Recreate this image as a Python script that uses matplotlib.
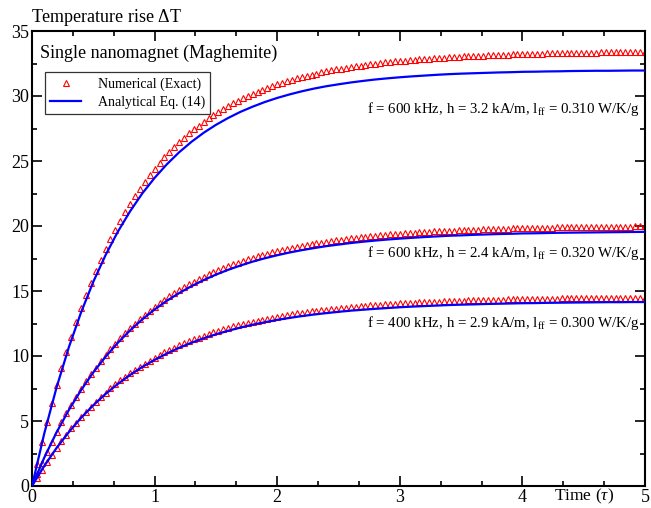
import numpy as np
import matplotlib
matplotlib.use("Agg")
import matplotlib.pyplot as plt
from matplotlib.ticker import MultipleLocator

plt.rcParams['font.family'] = ['Liberation Serif', 'DejaVu Serif']
plt.rcParams['mathtext.fontset'] = 'custom'
plt.rcParams['mathtext.rm'] = 'Liberation Serif'
plt.rcParams['mathtext.it'] = 'Liberation Serif:italic'

# temps (en unites de tau) : points numeriques tous les 0.04, courbes analytiques tous les 0.1
t_num = np.linspace(0, 5, 126)
t_ana = np.linspace(0, 5, 51)

# f = 600 kHz, h = 3.2 kA/m
num_top = [0.00, 1.72, 3.35, 4.89, 6.35, 7.74, 9.06, 10.30, 11.49, 12.61,
           13.67, 14.68, 15.64, 16.54, 17.40, 18.22, 18.99, 19.72, 20.42, 21.08,
           21.70, 22.30, 22.86, 23.39, 23.90, 24.38, 24.84, 25.27, 25.68, 26.07,
           26.44, 26.79, 27.12, 27.44, 27.73, 28.02, 28.29, 28.54, 28.79, 29.02,
           29.24, 29.44, 29.64, 29.83, 30.00, 30.17, 30.33, 30.49, 30.63, 30.77,
           30.90, 31.02, 31.14, 31.25, 31.36, 31.46, 31.55, 31.64, 31.73, 31.81,
           31.89, 31.97, 32.04, 32.10, 32.17, 32.23, 32.29, 32.34, 32.39, 32.44,
           32.49, 32.54, 32.58, 32.62, 32.66, 32.69, 32.73, 32.76, 32.80, 32.83,
           32.85, 32.88, 32.91, 32.93, 32.96, 32.98, 33.00, 33.02, 33.04, 33.06,
           33.08, 33.10, 33.11, 33.13, 33.14, 33.16, 33.17, 33.18, 33.20, 33.21,
           33.22, 33.23, 33.24, 33.25, 33.26, 33.27, 33.28, 33.29, 33.29, 33.30,
           33.31, 33.32, 33.32, 33.33, 33.33, 33.34, 33.35, 33.35, 33.36, 33.36,
           33.37, 33.37, 33.38, 33.38, 33.38, 33.39]
ana_top = [0.00, 4.04, 7.57, 10.66, 13.35, 15.71, 17.76, 19.56, 21.13, 22.51,
           23.70, 24.75, 25.67, 26.47, 27.17, 27.78, 28.31, 28.78, 29.18, 29.54,
           29.85, 30.12, 30.36, 30.57, 30.75, 30.90, 31.04, 31.16, 31.27, 31.36,
           31.44, 31.51, 31.57, 31.63, 31.68, 31.72, 31.75, 31.78, 31.81, 31.83,
           31.86, 31.87, 31.89, 31.90, 31.92, 31.93, 31.94, 31.94, 31.95, 31.96,
           31.96]

# f = 600 kHz, h = 2.4 kA/m
num_mid = [0.00, 0.91, 1.79, 2.62, 3.41, 4.17, 4.89, 5.58, 6.24, 6.87,
           7.47, 8.04, 8.59, 9.11, 9.61, 10.08, 10.53, 10.96, 11.38, 11.77,
           12.15, 12.50, 12.85, 13.17, 13.48, 13.78, 14.06, 14.33, 14.59, 14.84,
           15.07, 15.30, 15.51, 15.72, 15.91, 16.10, 16.28, 16.45, 16.61, 16.76,
           16.91, 17.05, 17.19, 17.31, 17.44, 17.55, 17.67, 17.77, 17.87, 17.97,
           18.06, 18.15, 18.24, 18.32, 18.39, 18.47, 18.54, 18.61, 18.67, 18.73,
           18.79, 18.84, 18.90, 18.95, 19.00, 19.04, 19.09, 19.13, 19.17, 19.21,
           19.25, 19.28, 19.32, 19.35, 19.38, 19.41, 19.44, 19.46, 19.49, 19.51,
           19.54, 19.56, 19.58, 19.60, 19.62, 19.64, 19.65, 19.67, 19.69, 19.70,
           19.72, 19.73, 19.75, 19.76, 19.77, 19.78, 19.79, 19.80, 19.82, 19.82,
           19.83, 19.84, 19.85, 19.86, 19.87, 19.88, 19.88, 19.89, 19.90, 19.90,
           19.91, 19.91, 19.92, 19.93, 19.93, 19.94, 19.94, 19.94, 19.95, 19.95,
           19.96, 19.96, 19.96, 19.97, 19.97, 19.97]
ana_mid = [0.00, 2.18, 4.12, 5.84, 7.37, 8.74, 9.94, 11.02, 11.97, 12.82,
           13.58, 14.25, 14.84, 15.37, 15.84, 16.26, 16.63, 16.96, 17.26, 17.52,
           17.75, 17.96, 18.14, 18.30, 18.45, 18.57, 18.69, 18.79, 18.88, 18.96,
           19.03, 19.09, 19.15, 19.20, 19.25, 19.28, 19.32, 19.35, 19.38, 19.40,
           19.43, 19.44, 19.46, 19.48, 19.49, 19.50, 19.51, 19.52, 19.53, 19.54,
           19.55]

# f = 400 kHz, h = 2.9 kA/m
num_bot = [0.00, 0.65, 1.26, 1.85, 2.42, 2.96, 3.47, 3.96, 4.43, 4.88,
           5.31, 5.72, 6.11, 6.49, 6.84, 7.18, 7.51, 7.82, 8.12, 8.40,
           8.67, 8.93, 9.18, 9.42, 9.65, 9.86, 10.07, 10.27, 10.45, 10.63,
           10.81, 10.97, 11.13, 11.28, 11.42, 11.56, 11.69, 11.82, 11.94, 12.05,
           12.16, 12.27, 12.37, 12.46, 12.55, 12.64, 12.72, 12.80, 12.88, 12.95,
           13.02, 13.09, 13.15, 13.21, 13.27, 13.33, 13.38, 13.43, 13.48, 13.52,
           13.57, 13.61, 13.65, 13.69, 13.73, 13.76, 13.80, 13.83, 13.86, 13.89,
           13.92, 13.94, 13.97, 14.00, 14.02, 14.04, 14.06, 14.08, 14.10, 14.12,
           14.14, 14.16, 14.17, 14.19, 14.21, 14.22, 14.23, 14.25, 14.26, 14.27,
           14.28, 14.29, 14.31, 14.32, 14.33, 14.33, 14.34, 14.35, 14.36, 14.37,
           14.38, 14.38, 14.39, 14.40, 14.40, 14.41, 14.41, 14.42, 14.43, 14.43,
           14.43, 14.44, 14.44, 14.45, 14.45, 14.46, 14.46, 14.46, 14.47, 14.47,
           14.47, 14.48, 14.48, 14.48, 14.48, 14.49]
ana_bot = [0.00, 1.54, 2.92, 4.14, 5.24, 6.21, 7.08, 7.85, 8.54, 9.16,
           9.70, 10.19, 10.63, 11.02, 11.36, 11.67, 11.94, 12.19, 12.41, 12.60,
           12.78, 12.93, 13.07, 13.19, 13.30, 13.40, 13.49, 13.56, 13.63, 13.69,
           13.75, 13.80, 13.84, 13.88, 13.92, 13.95, 13.97, 14.00, 14.02, 14.04,
           14.06, 14.07, 14.09, 14.10, 14.11, 14.12, 14.13, 14.14, 14.14, 14.15,
           14.15]

labels = [r"f = 600 kHz, h = 3.2 kA/m, l$_\mathrm{ff}$ = 0.310 W/K/g",
          r"f = 600 kHz, h = 2.4 kA/m, l$_\mathrm{ff}$ = 0.320 W/K/g",
          r"f = 400 kHz, h = 2.9 kA/m, l$_\mathrm{ff}$ = 0.300 W/K/g"]
label_y = [29.0, 17.9, 12.5]

fig = plt.figure(figsize=(6.51, 5.08), dpi=100)
ax = fig.add_axes([32 / 651, 1 - 486 / 508, 613 / 651, 455 / 508])

series = [(num_top, ana_top), (num_mid, ana_mid), (num_bot, ana_bot)]
for k, (num, ana) in enumerate(series):
    ax.plot(t_num, num, linestyle='none', marker='^', markersize=4.2,
            markerfacecolor='none', markeredgecolor='#ff0000', markeredgewidth=0.8,
            label='Numerical (Exact)' if k == 0 else None, zorder=2)
    ax.plot(t_ana, ana, color='#0000ff', linewidth=1.6,
            label='Analytical Eq. (14)' if k == 0 else None, zorder=3)

for txt, yy in zip(labels, label_y):
    ax.text(4.96, yy, txt, ha='right', va='center', fontsize=10.7)

ax.text(0.065, 33.3, "Single nanomagnet (Maghemite)", ha='left', va='center', fontsize=13)

ax.set_xlim(0, 5)
ax.set_ylim(0, 35)
ax.xaxis.set_major_locator(MultipleLocator(1))
ax.xaxis.set_minor_locator(MultipleLocator(1 / 3))
ax.yaxis.set_major_locator(MultipleLocator(5))
ax.yaxis.set_minor_locator(MultipleLocator(2.5))
ax.tick_params(which='both', direction='in', top=True, right=True, labelsize=13, width=1.2)
ax.tick_params(which='major', length=7, pad=2)
ax.tick_params(which='minor', length=3.5)
for s in ax.spines.values():
    s.set_linewidth(1.5)

leg = ax.legend(loc='upper left', bbox_to_anchor=(0.021, 0.91), borderaxespad=0,
                fontsize=10, frameon=True, fancybox=False, handlelength=2.2,
                handletextpad=1.2, borderpad=0.4, labelspacing=0.3)
leg.get_frame().set_edgecolor('black')
leg.get_frame().set_linewidth(0.9)

fig.text(31 / 651, 1 - 18 / 508, r"Temperature rise $\Delta$T", ha='left', va='center', fontsize=13)
ax.text(0.9, -0.022, r"Time ($\tau$)", transform=ax.transAxes, ha='center', va='center', fontsize=12.5)

fig.savefig("out.png", dpi=100)
